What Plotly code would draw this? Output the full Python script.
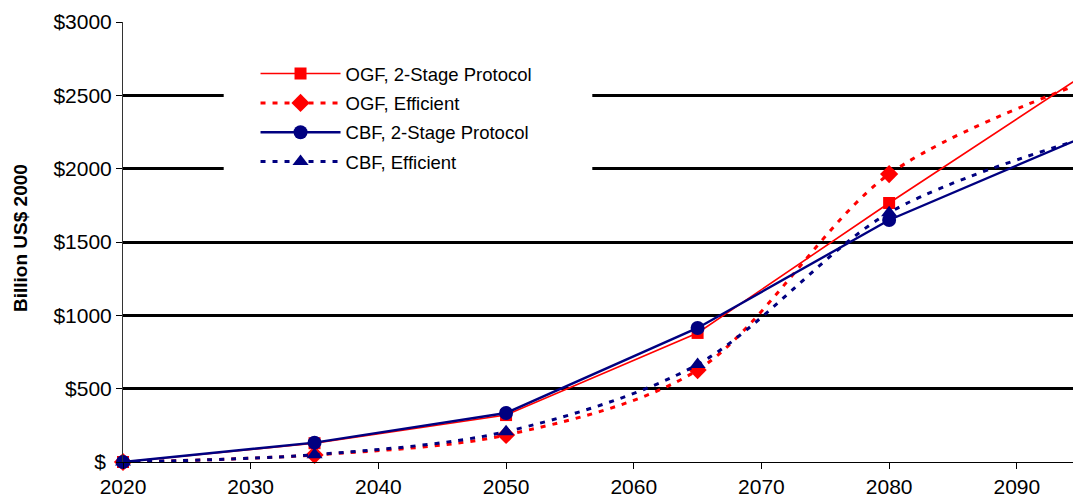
import plotly.graph_objects as go

years = [2020, 2035, 2050, 2065, 2080, 2095]
ogf_2stage = [0, 128, 320, 880, 1766, 2625]
ogf_eff = [0, 48, 184, 627, 1963, 2580]
cbf_2stage = [0, 132, 334, 914, 1650, 2208]
cbf_eff = [0, 50, 207, 665, 1700, 2200]

y_ticks = [0, 500, 1000, 1500, 2000, 2500, 3000]
y_ticktext = ["$ ", "$500", "$1000", "$1500", "$2000", "$2500", "$3000"]
x_ticks = [2020, 2030, 2040, 2050, 2060, 2070, 2080, 2090]

RED = "#FF0000"
NAVY = "#000080"
FONT = "Liberation Sans, Arial, sans-serif"
DOT = "5px,7px"

fig = go.Figure()
fig.add_trace(go.Scatter(
    x=years, y=ogf_2stage, name="OGF, 2-Stage Protocol", mode="lines+markers",
    legendgroup="a",
    line=dict(color=RED, width=1.6), marker=dict(symbol="square", size=12, color=RED),
    cliponaxis=False))
fig.add_trace(go.Scatter(
    x=years, y=ogf_eff, name="OGF, Efficient", mode="lines+markers",
    legendgroup="b",
    line=dict(color=RED, width=3, dash=DOT, shape="spline", smoothing=0.9),
    marker=dict(symbol="diamond", size=14, color=RED), cliponaxis=False))
fig.add_trace(go.Scatter(
    x=years, y=cbf_2stage, name="CBF, 2-Stage Protocol", mode="lines+markers",
    legendgroup="c",
    line=dict(color=NAVY, width=2.4), marker=dict(symbol="circle", size=14, color=NAVY),
    cliponaxis=False))
fig.add_trace(go.Scatter(
    x=years, y=cbf_eff, name="CBF, Efficient", mode="lines+markers",
    legendgroup="d",
    line=dict(color=NAVY, width=3, dash=DOT, shape="spline", smoothing=0.9),
    marker=dict(symbol="triangle-up", size=14, color=NAVY), cliponaxis=False))

fig.update_layout(
    width=1073, height=504,
    margin=dict(l=123, r=0, t=22, b=42),
    paper_bgcolor="white", plot_bgcolor="white",
    font=dict(family=FONT, color="black", size=21),
    showlegend=True,
    legend=dict(
        x=0.1395, y=0.925, xanchor="left", yanchor="top",
        bgcolor="white", borderwidth=0,
        font=dict(family=FONT, size=18.5, color="black"),
        itemwidth=80, tracegroupgap=2.3,
    ),
    xaxis=dict(
        range=[2020, 2094.4], tickvals=x_ticks, ticks="outside", ticklen=6,
        tickcolor="black", showline=True, linecolor="black", linewidth=1,
        showgrid=False, zeroline=False, tickfont=dict(size=21),
    ),
    yaxis=dict(
        range=[0, 3000], tickvals=y_ticks, ticktext=y_ticktext, ticks="outside",
        ticklen=6, tickcolor="black", showline=True, linecolor="#333333", linewidth=1,
        showgrid=True, gridcolor="black", gridwidth=2.6, zeroline=False,
        tickfont=dict(size=21),
    ),
    shapes=[dict(
        type="rect", xref="paper", yref="paper", layer="above",
        x0=0.106, x1=0.494, y0=0.63, y1=0.95,
        fillcolor="white", line=dict(width=0),
    )],
    annotations=[dict(
        text="<b>Billion US$ 2000</b>", xref="paper", yref="paper",
        x=-0.108, y=0.51, xanchor="center", yanchor="middle", textangle=-90,
        showarrow=False, font=dict(family=FONT, size=19, color="black"),
    )],
)

fig.write_html(
    "out.html",
    config={"displayModeBar": False},
    post_script="document.body.style.margin='0';document.body.style.overflow='hidden';",
)
